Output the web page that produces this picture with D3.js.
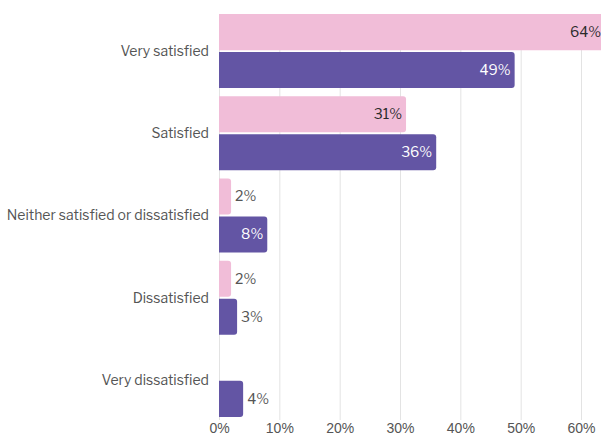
<!DOCTYPE html>
<html>
<head>
<meta charset="utf-8">
<script src="https://cdn.jsdelivr.net/npm/d3@7"></script>
<style>
  html, body { margin: 0; padding: 0; background: #fff; }
  svg { display: block; font-family: "Libre Franklin", Inter, Roboto, sans-serif; }
</style>
</head>
<body>
<svg id="chart" width="601" height="436"></svg>
<script>
// Satisfaction responses, two respondent groups
const categories = ["Very satisfied", "Satisfied", "Neither satisfied or dissatisfied", "Dissatisfied", "Very dissatisfied"];
const seriesNames = ["Group A", "Group B"];
const groupA = [64, 31, 2, 2, 0];
const groupB = [49, 36, 8, 3, 4];
const xTicks = [0, 10, 20, 30, 40, 50, 60];

const colors = { "Group A": "#f1bdd8", "Group B": "#6355a4" };
const labelColors = { "Group A": "#2b2b2b", "Group B": "#ffffff" };

const svg = d3.select("#chart");
const left = 219, plotTop = 14, plotBottom = 420;
const fontSize = "14px";

const x = d3.scaleLinear().domain([0, 60]).range([left, 581]);
const y = d3.scaleBand().domain(categories).range([10, 421]).paddingInner(0.1).paddingOuter(0.05);
const ySub = d3.scaleBand().domain(seriesNames).range([0, y.bandwidth()]).paddingInner(0.05);

// vertical gridlines
svg.append("g").selectAll("line").data(xTicks).join("line")
  .attr("x1", d => x(d) + 0.5).attr("x2", d => x(d) + 0.5)
  .attr("y1", plotTop).attr("y2", plotBottom)
  .attr("stroke", "#e3e3e3").attr("stroke-width", 1);

// x axis tick labels
const xAxis = svg.append("g").attr("transform", `translate(0,${plotBottom})`)
  .call(d3.axisBottom(x).tickValues(xTicks).tickFormat(d => d + "%").tickSize(0).tickPadding(3));
xAxis.select(".domain").remove();
xAxis.selectAll("text").attr("fill", "#555").style("font-size", fontSize).style("font-family", "inherit");

// category labels
svg.append("g").selectAll("text").data(categories).join("text")
  .attr("x", left - 10).attr("y", d => y(d) + y.bandwidth() / 2)
  .attr("dy", "0.35em").attr("text-anchor", "end")
  .attr("fill", "#555").style("font-size", fontSize)
  .text(d => d);

const rows = [];
categories.forEach((c, i) => {
  rows.push({ cat: c, series: "Group A", value: groupA[i] });
  rows.push({ cat: c, series: "Group B", value: groupB[i] });
});

// bar with rounded right corners
function barPath(x0, y0, w, h, r) {
  r = Math.min(r, w, h / 2);
  return `M${x0},${y0}H${x0 + w - r}Q${x0 + w},${y0} ${x0 + w},${y0 + r}` +
         `V${y0 + h - r}Q${x0 + w},${y0 + h} ${x0 + w - r},${y0 + h}H${x0}Z`;
}

const bars = rows.filter(d => d.value > 0);
svg.append("g").selectAll("path").data(bars).join("path")
  .attr("d", d => barPath(x(0), y(d.cat) + ySub(d.series), x(d.value) - x(0), ySub.bandwidth(), 3))
  .attr("fill", d => colors[d.series]);

// value labels: inside for wide bars, outside for narrow ones
svg.append("g").selectAll("text").data(bars).join("text")
  .attr("x", d => d.value >= 5 ? x(d.value) - 4 : x(d.value) + 4)
  .attr("y", d => y(d.cat) + ySub(d.series) + ySub.bandwidth() / 2)
  .attr("dy", "0.35em")
  .attr("text-anchor", d => d.value >= 5 ? "end" : "start")
  .attr("fill", d => d.value >= 5 ? labelColors[d.series] : "#555")
  .style("font-size", fontSize)
  .text(d => d.value + "%");
</script>
</body>
</html>
